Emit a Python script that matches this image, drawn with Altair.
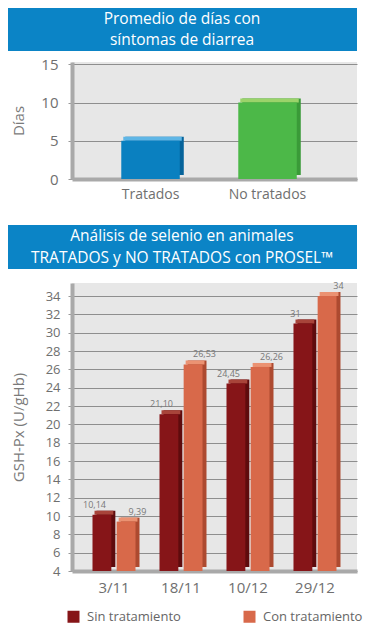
import altair as alt
import pandas as pd

# ---------------- data ----------------
title1 = ["Promedio de días con", "síntomas de diarrea"]
cats1 = ["Tratados", "No tratados"]
vals1 = [5, 10]
ytitle1 = "Días"
yticks1 = [0, 5, 10, 15]

title2 = ["Análisis de selenio en animales", "TRATADOS y NO TRATADOS con PROSEL™"]
dates = ["3/11", "18/11", "10/12", "29/12"]
series = ["Sin tratamiento", "Con tratamiento"]
sin_vals = [10.14, 21.10, 24.45, 31]
con_vals = [9.39, 26.53, 26.26, 34]
sin_lbls = ["10,14", "21,10", "24,45", "31"]
con_lbls = ["9,39", "26,53", "26,26", "34"]
ytitle2 = "GSH-Px (U/gHb)"
yticks2 = list(range(4, 35, 2))

# ---------------- styles ----------------
FONT = "Open Sans"
BANNER = "#0b84c6"
front1 = ["#0a80c0", "#4cb848"]
side1 = ["#06639a", "#3a9a38"]
top1 = ["#5fb6e6", "#9bd36a"]
front2 = ["#861518", "#d8694a"]
side2 = ["#5e0b0d", "#ad4a30"]
top2 = ["#a8443a", "#eb9272"]
LBL = "#6f6f6f"
W = 285

df1 = pd.DataFrame({"cat": cats1, "val": vals1})
rows = []
for d, s, c, sl, cl in zip(dates, sin_vals, con_vals, sin_lbls, con_lbls):
    rows.append({"date": d, "serie": series[0], "val": s, "lbl": sl})
    rows.append({"date": d, "serie": series[1], "val": c, "lbl": cl})
df2 = pd.DataFrame(rows)
one = pd.DataFrame({"k": [0]})


def banner(lines, y0, y1):
    rect = alt.Chart(one).mark_rect(color=BANNER).encode(
        x=alt.value(-64), x2=alt.value(W), y=alt.value(y0), y2=alt.value(y1)
    )
    mid = (y0 + y1) / 2
    offs = [-10.75, 10.75]
    texts = [
        alt.Chart(one).mark_text(
            font=FONT, fontSize=15.5, color="white", align="center", baseline="middle"
        ).encode(x=alt.value(110), y=alt.value(mid + o), text=alt.value(t))
        for t, o in zip(lines, offs)
    ]
    return [rect] + texts


# ---------------- chart 1 ----------------
H1 = 117
x1 = alt.X(
    "cat:N", sort=cats1,
    scale=alt.Scale(paddingInner=0.5, paddingOuter=0.468, align=0.45),
    axis=alt.Axis(title=None, labelAngle=0, labelFont=FONT, labelFontSize=14,
                  labelColor=LBL, labelPadding=8, ticks=False,
                  domainColor="#a9a9a9", domainWidth=4),
)
y1 = alt.Y(
    "val:Q", scale=alt.Scale(domain=[0, 15.3], nice=False, zero=False),
    axis=alt.Axis(values=yticks1, title=ytitle1, titleX=-46, titleFont=FONT,
                  titleFontSize=15, titleFontWeight="normal", titleColor="#7a7a7a",
                  labelFont=FONT, labelFontSize=15, labelColor=LBL, labelPadding=10,
                  tickSize=4, tickColor="#999999", domainColor="#a9a9a9", domainWidth=4,
                  grid=True, gridColor="#8e8e8e", gridWidth=1),
)
base1 = alt.Chart(df1)
shadow1 = base1.mark_bar(xOffset=4, yOffset=-4, y2Offset=-4).encode(
    x=x1, y=y1, y2=alt.datum(0),
    fill=alt.Fill("cat:N", sort=cats1, scale=alt.Scale(domain=cats1, range=side1), legend=None),
)
topf1 = base1.mark_bar(xOffset=2, yOffset=-4).encode(
    x=x1, y=y1, y2=alt.Y2("val:Q"),
    fill=alt.Fill("cat:N", sort=cats1, scale=alt.Scale(domain=cats1, range=top1), legend=None),
)
front_1 = base1.mark_bar().encode(
    x=x1, y=y1, y2=alt.datum(0),
    color=alt.Color("cat:N", sort=cats1, scale=alt.Scale(domain=cats1, range=front1), legend=None),
)
chart1 = alt.layer(
    *banner(title1, -54, -11), shadow1, topf1, front_1
).resolve_scale(fill="independent").properties(width=W, height=H1)

# ---------------- chart 2 ----------------
H2 = 288
BW = 43
x2 = alt.X(
    "date:N", sort=dates,
    scale=alt.Scale(paddingInner=0.358, paddingOuter=0.306),
    axis=alt.Axis(title=None, labelAngle=0, labelFont=FONT, labelFontSize=15,
                  labelColor=LBL, labelPadding=9, ticks=False,
                  domainColor="#a9a9a9", domainWidth=4),
)
y2 = alt.Y(
    "val:Q", scale=alt.Scale(domain=[4, 35.42], nice=False, zero=False),
    axis=alt.Axis(values=yticks2, title=ytitle2, titleX=-46, titleFont=FONT,
                  titleFontSize=15, titleFontWeight="normal", titleColor="#7a7a7a",
                  labelFont=FONT, labelFontSize=13, labelColor=LBL, labelPadding=8,
                  tickSize=4, tickColor="#999999", domainColor="#a9a9a9", domainWidth=4,
                  grid=True, gridColor="#8e8e8e", gridWidth=1),
)


def xo(shift):
    return alt.XOffset("serie:N", sort=series,
                       scale=alt.Scale(domain=series, range=[shift, BW + shift],
                                       paddingInner=0.22, paddingOuter=0))


base2 = alt.Chart(df2)
shadow2 = base2.mark_bar(yOffset=-4, y2Offset=-4).encode(
    x=x2, xOffset=xo(4), y=y2, y2=alt.datum(4),
    fill=alt.Fill("serie:N", sort=series, scale=alt.Scale(domain=series, range=side2), legend=None),
)
topf2 = base2.mark_bar(yOffset=-4).encode(
    x=x2, xOffset=xo(2), y=y2, y2=alt.Y2("val:Q"),
    fill=alt.Fill("serie:N", sort=series, scale=alt.Scale(domain=series, range=top2), legend=None),
)
front_2 = base2.mark_bar().encode(
    x=x2, xOffset=xo(0), y=y2, y2=alt.datum(4),
    color=alt.Color(
        "serie:N", sort=series, scale=alt.Scale(domain=series, range=front2),
        legend=alt.Legend(title=None, orient="none", legendX=-5, legendY=327,
                          direction="horizontal", columns=2, symbolType="square",
                          symbolSize=144, symbolStrokeWidth=0, labelFont=FONT,
                          labelFontSize=13, labelColor="#666666", labelOffset=7,
                          columnPadding=62, padding=0),
    ),
)
labels2 = base2.mark_text(font=FONT, fontSize=9, color="#777777", dy=-10, baseline="middle").encode(
    x=x2, xOffset=xo(2), y=y2, text="lbl:N",
)
chart2 = alt.layer(
    *banner(title2, -58, -14), shadow2, topf2, front_2, labels2
).resolve_scale(fill="independent", xOffset="independent").properties(width=W, height=H2)

chart = alt.vconcat(chart1, chart2, spacing=24).resolve_scale(
    color="independent", x="independent", y="independent", fill="independent"
).resolve_legend(color="independent").properties(
    padding={"left": 0, "top": 0, "right": 0, "bottom": 0}, background="white"
).configure_view(fill="#e7e7e7", stroke=None)

chart.save("out.html", embed_options={"renderer": "svg", "actions": False})
